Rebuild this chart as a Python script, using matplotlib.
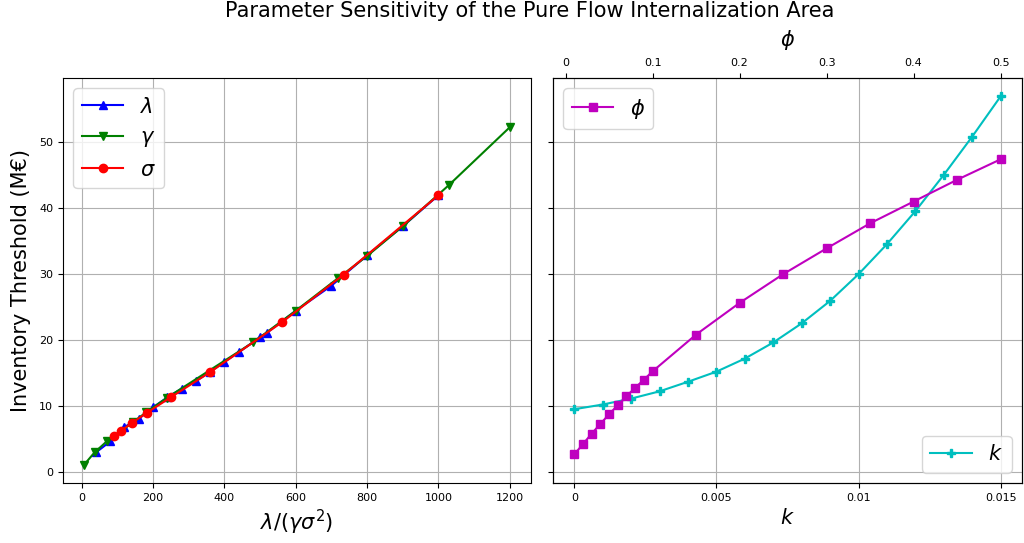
import matplotlib
matplotlib.use("Agg")
import matplotlib.pyplot as plt

# ---- data ----
lam_x = [40, 80, 120, 160, 200, 240, 280, 320, 360, 400, 440, 500, 520, 600, 700, 800, 900, 1000]
lam_y = [2.94, 4.6, 6.8, 8.03, 9.76, 11.28, 12.6, 13.75, 15.15, 16.66, 18.1, 20.4, 21.1, 24.4, 28.2, 32.8, 37.2, 41.9]

gam_x = [7.2, 36, 72, 144, 180, 240, 480, 600, 720, 800, 900, 1028.6, 1200]
gam_y = [1.1, 2.94, 4.7, 7.5, 9.0, 11.25, 19.6, 24.4, 29.4, 32.7, 37.2, 43.4, 52.2]

sig_x = [90, 111.1, 140.6, 183.7, 250, 360, 562.5, 734.7, 1000]
sig_y = [5.43, 6.24, 7.41, 8.98, 11.3, 15.1, 22.7, 29.9, 41.9]

k_x = [0, 0.001, 0.002, 0.003, 0.004, 0.005, 0.006, 0.007, 0.008, 0.009,
       0.010, 0.011, 0.012, 0.013, 0.014, 0.015]
k_y = [9.49, 10.2, 11.1, 12.2, 13.65, 15.18, 17.16, 19.6, 22.5, 25.9,
       29.95, 34.5, 39.5, 45.0, 50.8, 56.9]

phi_x = [0.01, 0.02, 0.03, 0.04, 0.05, 0.06, 0.07, 0.08, 0.09, 0.10,
         0.15, 0.20, 0.25, 0.30, 0.35, 0.40, 0.45, 0.50]
phi_y = [2.64, 4.21, 5.79, 7.26, 8.73, 10.1, 11.47, 12.74, 13.96, 15.23,
         20.8, 25.6, 29.95, 33.86, 37.66, 40.96, 44.26, 47.36]

left_xticks = [0, 200, 400, 600, 800, 1000, 1200]
yticks = [0, 10, 20, 30, 40, 50]
k_ticks = [0, 0.005, 0.01, 0.015]
k_tick_labels = ["0", "0.005", "0.01", "0.015"]
phi_ticks = [0, 0.1, 0.2, 0.3, 0.4, 0.5]
phi_tick_labels = ["0", "0.1", "0.2", "0.3", "0.4", "0.5"]

plt.rcParams['font.family'] = ['DejaVu Sans']

fig = plt.figure(figsize=(10.24, 5.43), dpi=100)
ax1 = fig.add_axes([0.0615, 0.1105, 0.457, 0.746])
ax = fig.add_axes([0.540, 0.1105, 0.458, 0.746], sharey=ax1)

# ---- left panel ----
ax1.plot(lam_x, lam_y, color='b', marker='^', label=r'$\lambda$')
ax1.plot(gam_x, gam_y, color='g', marker='v', label=r'$\gamma$')
ax1.plot(sig_x, sig_y, color='r', marker='o', label=r'$\sigma$')
ax1.grid(True)
ax1.set_xticks(left_xticks)
ax1.set_yticks(yticks)
ax1.tick_params(labelsize=8)
ax1.set_xlabel(r'$\lambda/(\gamma\sigma^2)$', fontsize=15)
ax1.set_ylabel('Inventory Threshold (M€)', fontsize=15, labelpad=6)
ax1.legend(loc='upper left', fontsize=15)

# ---- right panel ----
ax.plot(k_x, k_y, color='c', marker='P', label=r'$k$')
ax.grid(True)
ax.set_xticks(k_ticks)
ax.set_xticklabels(k_tick_labels)
ax.tick_params(labelsize=8)
ax.tick_params(axis='y', labelleft=False)
ax.set_xlabel(r'$k$', fontsize=15)
ax.legend(loc='lower right', fontsize=15)

ax2 = ax.twiny()
ax2.plot(phi_x, phi_y, color='m', marker='s', label=r'$\phi$')
ax2.set_xticks(phi_ticks)
ax2.set_xticklabels(phi_tick_labels)
ax2.tick_params(labelsize=8)
ax2.set_xlabel(r'$\phi$', fontsize=15, labelpad=9)
ax2.legend(loc='upper left', fontsize=15)

fig.suptitle('Parameter Sensitivity of the Pure Flow Internalization Area',
             fontsize=15, x=0.517, y=0.998)

fig.savefig('out.png', dpi=100)
